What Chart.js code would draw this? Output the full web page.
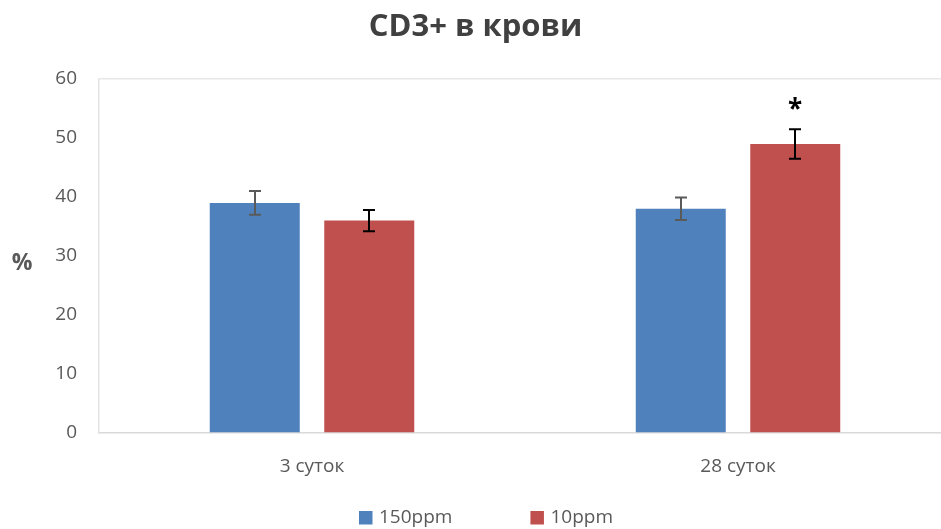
<!DOCTYPE html>
<html>
<head>
<meta charset="utf-8">
<title>CD3+ в крови</title>
<script src="https://cdn.jsdelivr.net/npm/chart.js@4.4.1/dist/chart.umd.min.js"></script>
<style>
  html, body { margin: 0; padding: 0; background: #ffffff; }
  #wrap { width: 941px; height: 529px; overflow: hidden; position: relative; }
  canvas { display: block; }
</style>
</head>
<body>
<div id="wrap"><canvas id="chart" width="951" height="529"></canvas></div>
<script>
// Groups on the x axis
const categories = ['3 суток', '28 суток'];

// Series names
const seriesNames = ['150ppm', '10ppm'];

// Mean values, %
const values150 = [39, 38];
const values10 = [36, 49];

// Error bar half-lengths, %
const errors150 = [2, 1.9];
const errors10 = [1.8, 2.5];

// Significance marks above the 10ppm bars
const marks10 = ['', '*'];

// Value axis ticks
const yTicks = [0, 10, 20, 30, 40, 50, 60];

const FONT = '"Open Sans", "Noto Sans", sans-serif';
const TEXT_GREY = '#595959';

// Error bars with caps, plus optional marks above them
const errorBars = {
  id: 'errorBars',
  afterDatasetsDraw(chart) {
    const ctx = chart.ctx;
    const y = chart.scales.y;
    chart.data.datasets.forEach((ds, di) => {
      const meta = chart.getDatasetMeta(di);
      meta.data.forEach((bar, i) => {
        const v = ds.data[i];
        const e = ds.errors[i];
        const top = y.getPixelForValue(v + e);
        const bot = y.getPixelForValue(v - e);
        const cx = Math.round(bar.x);
        ctx.save();
        ctx.strokeStyle = ds.errorColor;
        ctx.lineWidth = 2;
        ctx.beginPath();
        ctx.moveTo(cx, top);
        ctx.lineTo(cx, bot);
        ctx.moveTo(cx - 6, top);
        ctx.lineTo(cx + 6, top);
        ctx.moveTo(cx - 6, bot);
        ctx.lineTo(cx + 6, bot);
        ctx.stroke();
        if (ds.marks && ds.marks[i]) {
          ctx.fillStyle = '#000000';
          ctx.font = 'bold 26px ' + FONT;
          ctx.textAlign = 'center';
          ctx.textBaseline = 'alphabetic';
          ctx.fillText(ds.marks[i], cx, top - 11);
        }
        ctx.restore();
      });
    });
  }
};

// Horizontal "%" label left of the value axis
const unitLabel = {
  id: 'unitLabel',
  afterDraw(chart) {
    const ctx = chart.ctx;
    const a = chart.chartArea;
    ctx.save();
    ctx.fillStyle = TEXT_GREY;
    ctx.font = 'bold 23px ' + FONT;
    ctx.textAlign = 'center';
    ctx.textBaseline = 'middle';
    ctx.fillText('%', 22, (a.top + a.bottom) / 2 + 7);
    ctx.restore();
  }
};

// Legend row under the axis
const bottomLegend = {
  id: 'bottomLegend',
  afterDraw(chart) {
    const ctx = chart.ctx;
    ctx.save();
    ctx.font = '19px ' + FONT;
    ctx.textAlign = 'left';
    ctx.textBaseline = 'middle';
    let x = 359;
    const yMid = 517.5;
    chart.data.datasets.forEach(ds => {
      ctx.fillStyle = ds.backgroundColor;
      ctx.fillRect(x, yMid - 6.5, 13.5, 13.5);
      ctx.fillStyle = TEXT_GREY;
      ctx.fillText(ds.label, x + 20, yMid);
      x += 20 + ctx.measureText(ds.label).width + 78;
    });
    ctx.restore();
  }
};

new Chart(document.getElementById('chart'), {
  type: 'bar',
  data: {
    labels: categories,
    datasets: [
      {
        label: seriesNames[0],
        data: values150,
        errors: errors150,
        errorColor: '#5a5a5a',
        backgroundColor: '#4f81bd',
        categoryPercentage: 0.5376,
        barPercentage: 0.786
      },
      {
        label: seriesNames[1],
        data: values10,
        errors: errors10,
        errorColor: '#000000',
        marks: marks10,
        backgroundColor: '#c0504d',
        categoryPercentage: 0.5376,
        barPercentage: 0.786
      }
    ]
  },
  options: {
    responsive: false,
    animation: false,
    devicePixelRatio: 1,
    layout: { padding: 0 },
    plugins: {
      legend: { display: false },
      tooltip: { enabled: false },
      title: {
        display: true,
        text: 'CD3+ в крови',
        color: '#404040',
        font: { family: FONT, size: 31, weight: 'bold' },
        padding: { top: 9, bottom: 32.8 }
      }
    },
    scales: {
      x: {
        grid: { display: true, color: 'rgba(0,0,0,0)', drawTicks: false },
        border: { display: true, color: '#d9d9d9', width: 1.5 },
        ticks: { color: TEXT_GREY, font: { family: FONT, size: 19 }, padding: 22 },
        afterFit(scale) { scale.height = 529 - 433; }
      },
      y: {
        min: yTicks[0],
        max: yTicks[yTicks.length - 1],
        grid: {
          drawTicks: false,
          lineWidth: 1.5,
          color: (c) => (c.tick && c.tick.value === yTicks[yTicks.length - 1]) ? '#e8e8e8' : 'rgba(0,0,0,0)'
        },
        border: { display: true, color: '#e3e3e3', width: 1.5 },
        ticks: {
          stepSize: yTicks[1] - yTicks[0],
          color: TEXT_GREY,
          font: { family: FONT, size: 19 },
          padding: 22
        },
        afterFit(scale) { scale.width = 99; }
      }
    }
  },
  plugins: [errorBars, unitLabel, bottomLegend]
});
</script>
</body>
</html>
